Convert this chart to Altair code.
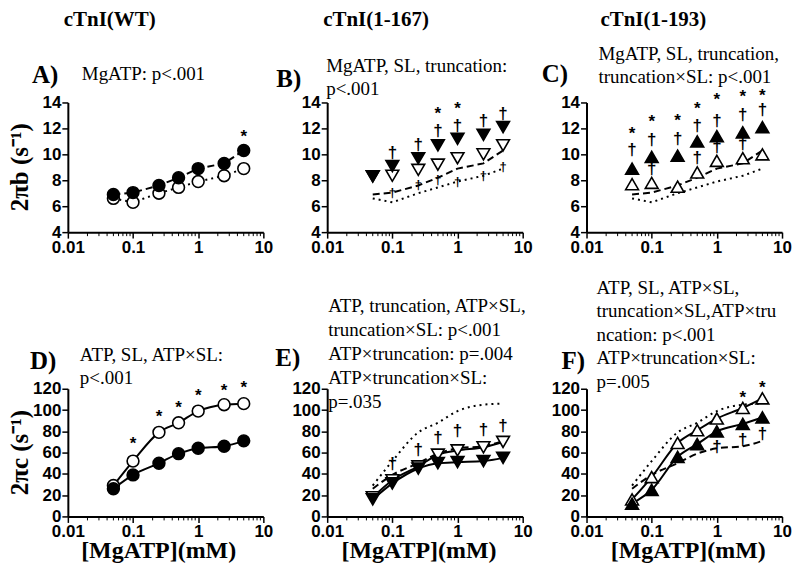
import altair as alt
import pandas as pd

# ---------------- data ----------------
X = [0.05, 0.1, 0.25, 0.5, 1, 2.5, 5]

# 2*pi*b (s^-1)
wt_b_filled = [6.9, 7.05, 7.6, 8.2, 8.9, 9.3, 10.3]
wt_b_open = [6.6, 6.3, 7.0, 7.45, 7.9, 8.35, 8.9]
t167_b_filled = [8.3, 9.1, 9.7, 10.7, 11.2, 11.5, 12.1]
t167_b_open = [8.3, 8.35, 8.8, 9.2, 9.7, 10.0, 10.7]
t193_b_filled = [8.9, 9.8, 9.9, 11.0, 11.4, 11.7, 12.1]
t193_b_open = [7.7, 7.8, 7.5, 8.6, 9.5, 9.7, 10.0]

# 2*pi*c (s^-1)
wt_c_filled = [26, 39, 50, 59, 64, 66, 71]
wt_c_open = [29, 52, 79, 88, 99, 105, 106]
t167_c_filled = [16, 31, 45, 50, 51, 52, 55]
t167_c_open = [18, 34, 47, 58, 62, 65, 70]
t193_c_filled = [12, 25, 56, 68, 80, 87, 93]
t193_c_open = [16, 37, 69, 81, 92, 102, 111]

# significance symbols (x, y)
A_star_x, A_star_y = [5], [11.3]
B_star_x, B_star_y = [0.5, 1], [13.1, 13.5]
B_dag_x = [0.1, 0.25, 0.5, 1, 2.5, 5]
B_dag_y = [10.1, 10.7, 11.8, 12.2, 12.6, 13.1]
B_small_x = [0.1, 0.25, 0.5, 1, 2.5, 5]
B_small_y = [7.0, 7.6, 8.0, 7.9, 8.35, 9.0]
C_star_x = [0.05, 0.1, 0.25, 0.5, 1, 2.5, 5]
C_star_y = [11.6, 12.5, 12.6, 13.5, 14.2, 14.4, 14.5]
C_dag_x = [0.05, 0.1, 0.25, 0.5, 1, 2.5, 5, 0.1, 0.5, 1, 2.5]
C_dag_y = [10.3, 11.1, 11.2, 12.2, 12.6, 13.0, 13.4, 8.9, 9.7, 10.6, 10.8]
D_star_x = [0.1, 0.25, 0.5, 1, 2.5, 5]
D_star_y = [68, 93, 102, 113, 118, 121]
E_dag_x = [0.1, 0.25, 0.5, 1, 2.5, 5]
E_dag_y = [49, 62, 74, 80, 81, 85]
F_star_x, F_star_y = [2.5, 5], [111, 121]
F_dag_x, F_dag_y = [1, 2.5, 5], [65, 72, 77]

MINOR = [0.02, 0.03, 0.04, 0.05, 0.06, 0.07, 0.08, 0.09,
         0.2, 0.3, 0.4, 0.5, 0.6, 0.7, 0.8, 0.9,
         2, 3, 4, 5, 6, 7, 8, 9]

headers = ["cTnI(WT)", "cTnI(1-167)", "cTnI(1-193)"]
stats = {
    "A": "MgATP: p<.001",
    "B": "MgATP, SL, truncation:\np<.001",
    "C": "MgATP, SL, truncation,\ntruncation×SL: p<.001",
    "D": "ATP, SL, ATP×SL:\np<.001",
    "E": "ATP, truncation, ATP×SL,\ntruncation×SL: p<.001\nATP×truncation: p=.004\nATP×truncation×SL:\np=.035",
    "F": "ATP, SL, ATP×SL,\ntruncation×SL,ATP×tru\nncation: p<.001\nATP×truncation×SL:\np=.005",
}

SERIF = "Liberation Serif"
SANS = "Liberation Sans"
W = 196
HT, HB = 130, 128

xenc = alt.X("x:Q", scale=alt.Scale(type="log", domain=[0.01, 10]),
             axis=alt.Axis(values=[0.01, 0.1, 1, 10], format="~g", title=None))


def yenc(top):
    if top:
        return alt.Y("y:Q", scale=alt.Scale(domain=[4, 14], nice=False, zero=False),
                     axis=alt.Axis(values=[4, 6, 8, 10, 12, 14], title=None))
    return alt.Y("y:Q", scale=alt.Scale(domain=[0, 120], nice=False, zero=True),
                 axis=alt.Axis(values=[0, 20, 40, 60, 80, 100, 120], title=None))


def df(xs, ys):
    return pd.DataFrame({"x": xs, "y": ys})


def pts(ys, shape, filled, top, size=165):
    return alt.Chart(df(X, ys)).mark_point(
        shape=shape, filled=True, fill="black" if filled else "white",
        stroke="black", strokeWidth=1.6, size=size, opacity=1
    ).encode(x=xenc, y=yenc(top))


def line(ys, top, dash=None, curve=False, width=2):
    kw = dict(color="black", strokeWidth=width)
    if dash:
        kw["strokeDash"] = dash
    if curve:
        kw["interpolate"] = "monotone"
    return alt.Chart(df(X, ys)).mark_line(**kw).encode(x=xenc, y=yenc(top))


def sym(xs, ys, ch, top, size=17):
    d = df(xs, ys)
    d["t"] = ch
    return alt.Chart(d).mark_text(font=SANS, fontWeight="bold", fontSize=size,
                                  color="black", baseline="middle").encode(
        x=xenc, y=yenc(top), text="t:N")


def minor(top, h):
    return alt.Chart(pd.DataFrame({"x": MINOR})).mark_rule(
        color="black", strokeWidth=1).encode(x=xenc, y=alt.value(h), y2=alt.value(h + 4))


ONE = pd.DataFrame({"k": [0]})


def txt(px, py, s, size, bold=False, font=SERIF, align="left", angle=None,
        baseline="alphabetic", lh=23.5):
    kw = dict(font=font, fontSize=size, fontWeight="bold" if bold else "normal",
              align=align, baseline=baseline, color="black")
    if angle is not None:
        kw["angle"] = angle
    if "\n" in s:
        kw["lineBreak"] = "\n"
        kw["lineHeight"] = lh
    return alt.Chart(ONE).mark_text(**kw).encode(
        x=alt.value(px), y=alt.value(py), text=alt.value(s))


DASH = [7, 4]
DOT = [2, 4]

# ---------------- panels ----------------
A = alt.layer(
    minor(True, HT),
    line(wt_b_filled, True, DASH),
    line(wt_b_open, True, DOT),
    pts(wt_b_open, "circle", False, True, 140),
    pts(wt_b_filled, "circle", True, True, 140),
    sym(A_star_x, A_star_y, "*", True),
    txt(42, -77, headers[0], 21, True, align="center"),
    txt(-36, -20, "A)", 25, True),
    txt(14, -23, stats["A"], 19),
    txt(-48, HT / 2, "2πb (s⁻¹)", 25, True, align="center", angle=270, baseline="middle"),
).properties(width=W, height=HT)

B = alt.layer(
    minor(True, HT),
    line(wt_b_filled, True, DASH),
    line(wt_b_open, True, DOT),
    sym(B_small_x, B_small_y, "†", True, 13),
    pts(t167_b_open, "triangle-down", False, True),
    pts(t167_b_filled, "triangle-down", True, True),
    sym(B_star_x, B_star_y, "*", True),
    sym(B_dag_x, B_dag_y, "†", True),
    txt(49, -77, headers[1], 21, True, align="center"),
    txt(-51, -16, "B)", 25, True),
    txt(-1, -31, stats["B"], 19),
).properties(width=W, height=HT)

C = alt.layer(
    minor(True, HT),
    line(wt_b_filled, True, DASH),
    line(wt_b_open, True, DOT),
    pts(t193_b_open, "triangle-up", False, True),
    pts(t193_b_filled, "triangle-up", True, True),
    sym(C_star_x, C_star_y, "*", True),
    sym(C_dag_x, C_dag_y, "†", True),
    txt(67, -77, headers[2], 21, True, align="center"),
    txt(-45, -21, "C)", 25, True),
    txt(12, -43, stats["C"], 19),
).properties(width=W, height=HT)

D = alt.layer(
    minor(False, HB),
    line(wt_c_open, False, curve=True),
    line(wt_c_filled, False, curve=True),
    pts(wt_c_open, "circle", False, False, 140),
    pts(wt_c_filled, "circle", True, False, 140),
    sym(D_star_x, D_star_y, "*", False),
    txt(-38, -20, "D)", 25, True),
    txt(12, -28, stats["D"], 19),
    txt(-48, HB / 2, "2πc (s⁻¹)", 25, True, align="center", angle=270, baseline="middle"),
    txt(91, 163, "[MgATP](mM)", 24, True, align="center", baseline="middle"),
).properties(width=W, height=HB)

E = alt.layer(
    minor(False, HB),
    line(wt_c_open, False, DOT, curve=True),
    line(wt_c_filled, False, DASH, curve=True),
    line(t167_c_open, False, curve=True),
    line(t167_c_filled, False, curve=True),
    pts(t167_c_open, "triangle-down", False, False),
    pts(t167_c_filled, "triangle-down", True, False),
    sym(E_dag_x, E_dag_y, "†", False),
    txt(-52, -23, "E)", 25, True),
    txt(1, -77, stats["E"], 19, lh=24),
    txt(92, 163, "[MgATP](mM)", 24, True, align="center", baseline="middle"),
).properties(width=W, height=HB)

F = alt.layer(
    minor(False, HB),
    line(wt_c_open, False, DOT, curve=True),
    line(wt_c_filled, False, DASH, curve=True),
    line(t193_c_open, False, curve=True),
    line(t193_c_filled, False, curve=True),
    pts(t193_c_open, "triangle-up", False, False),
    pts(t193_c_filled, "triangle-up", True, False),
    sym(F_star_x, F_star_y, "*", False),
    sym(F_dag_x, F_dag_y, "†", False),
    txt(-25, -20, "F)", 25, True),
    txt(10, -95, stats["F"], 19, lh=23.5),
    txt(102, 163, "[MgATP](mM)", 24, True, align="center", baseline="middle"),
).properties(width=W, height=HB)

chart = alt.concat(
    A, B, C, D, E, F, columns=3,
    spacing={"row": 157, "column": 64},
    bounds="flush",
).properties(padding=0).configure_view(stroke=None).configure_axis(
    domainColor="black", domainWidth=2, tickColor="black", tickWidth=1.5,
    tickSize=6, labelColor="black", labelFont=SANS, labelFontWeight="bold",
    labelFontSize=17, grid=False, labelPadding=1, labelFlush=False,
    labelOverlap=False,
)

chart.save("out.html", embed_options={"renderer": "svg", "actions": False})
